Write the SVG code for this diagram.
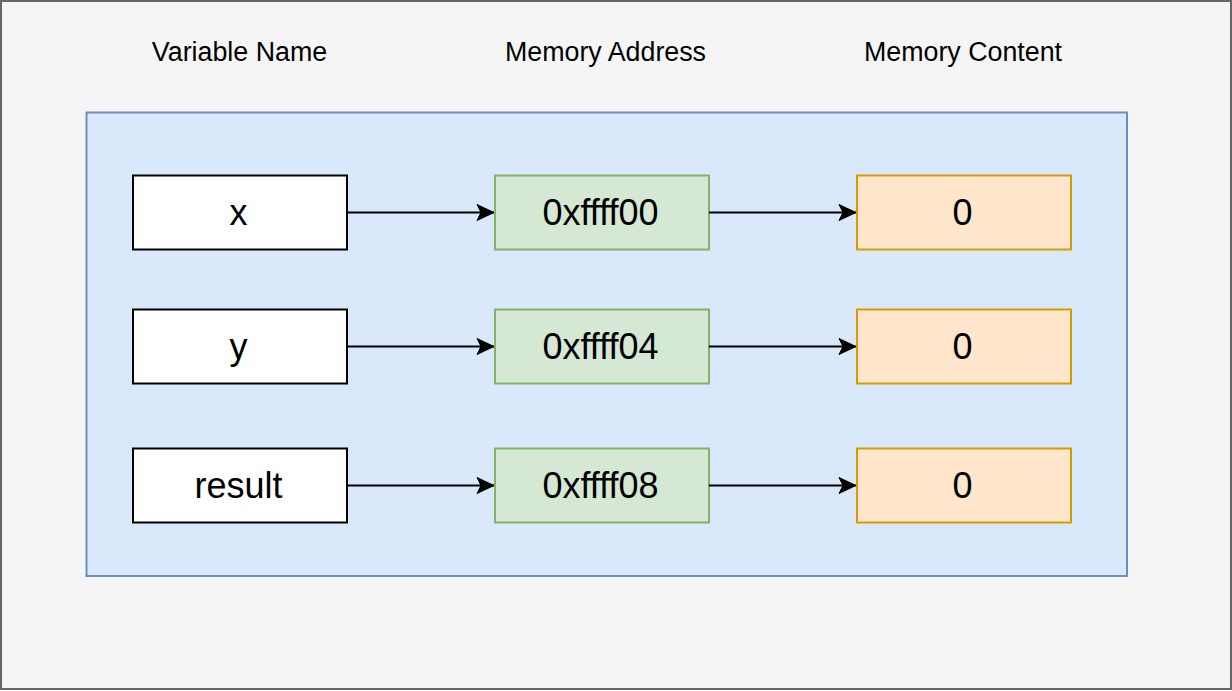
<svg xmlns="http://www.w3.org/2000/svg" width="1232" height="691" viewBox="0 0 1232 691">
<style>
.hdr{font-family:"Liberation Sans",Arial,sans-serif;font-size:26.8px;fill:#000;text-anchor:middle}
.lbl{font-family:"Liberation Sans",Arial,sans-serif;font-size:36px;fill:#000;text-anchor:middle}
.var{fill:#ffffff;stroke:#000;stroke-width:2}
.addr{fill:#d5e8d4;stroke:#82b366;stroke-width:2}
.cont{fill:#ffe6cc;stroke:#d79b00;stroke-width:2}
.edge{stroke:#000;stroke-width:2;fill:none}
</style>
<defs>
<marker id="arr" markerUnits="userSpaceOnUse" markerWidth="20" markerHeight="20" viewBox="0 0 20 20" refX="18" refY="10" orient="auto">
<path d="M18 10 L1 2 L5 10 L1 18 Z" fill="#000" stroke="#000" stroke-width="1"/>
</marker>
</defs>
<g id="background">
<rect x="1" y="1" width="1230" height="688" fill="#f5f5f5" stroke="#666666" stroke-width="2"/>
</g>
<g id="headers">
<text class="hdr" x="239.5" y="60.5">Variable Name</text>
<text class="hdr" x="605.5" y="60.5">Memory Address</text>
<text class="hdr" x="963" y="60.5">Memory Content</text>
</g>
<g id="memory-area">
<rect x="86.5" y="112.5" width="1040.5" height="463.5" fill="#dae8fc" stroke="#6c8ebf" stroke-width="2"/>
</g>
<g id="var-x"><rect class="var" x="133" y="175.5" width="214" height="74"/><text class="lbl" x="238.5" y="225">x</text></g>
<g id="var-y"><rect class="var" x="133" y="309.5" width="214" height="74"/><text class="lbl" x="238.5" y="359">y</text></g>
<g id="var-result"><rect class="var" x="133" y="448.5" width="214" height="74"/><text class="lbl" x="238.5" y="498">result</text></g>
<g id="addr-0"><rect class="addr" x="495" y="175.5" width="214" height="74"/><text class="lbl" x="600.5" y="225">0xffff00</text></g>
<g id="addr-4"><rect class="addr" x="495" y="309.5" width="214" height="74"/><text class="lbl" x="600.5" y="359">0xffff04</text></g>
<g id="addr-8"><rect class="addr" x="495" y="448.5" width="214" height="74"/><text class="lbl" x="600.5" y="498">0xffff08</text></g>
<g id="cont-x"><rect class="cont" x="857" y="175.5" width="214" height="74"/><text class="lbl" x="962.5" y="225">0</text></g>
<g id="cont-y"><rect class="cont" x="857" y="309.5" width="214" height="74"/><text class="lbl" x="962.5" y="359">0</text></g>
<g id="cont-result"><rect class="cont" x="857" y="448.5" width="214" height="74"/><text class="lbl" x="962.5" y="498">0</text></g>
<g id="connectors">
<line class="edge" x1="347" y1="212.5" x2="494" y2="212.5" marker-end="url(#arr)"/>
<line class="edge" x1="709" y1="212.5" x2="856" y2="212.5" marker-end="url(#arr)"/>
<line class="edge" x1="347" y1="346.5" x2="494" y2="346.5" marker-end="url(#arr)"/>
<line class="edge" x1="709" y1="346.5" x2="856" y2="346.5" marker-end="url(#arr)"/>
<line class="edge" x1="347" y1="485.5" x2="494" y2="485.5" marker-end="url(#arr)"/>
<line class="edge" x1="709" y1="485.5" x2="856" y2="485.5" marker-end="url(#arr)"/>
</g>
</svg>
